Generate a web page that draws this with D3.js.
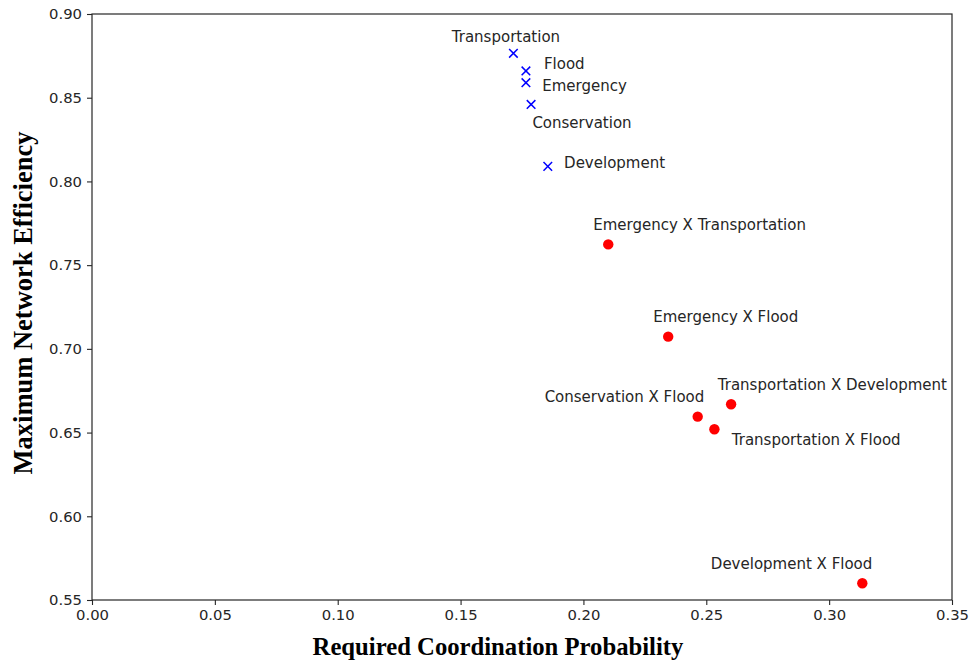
<!DOCTYPE html>
<html>
<head>
<meta charset="utf-8">
<script src="https://cdn.jsdelivr.net/npm/d3@7"></script>
<style>
  body { margin: 0; background: #fff; }
  .tick text { font-family: "DejaVu Sans", sans-serif; font-size: 14.8px; fill: #262626; }
  .lbl { font-family: "DejaVu Sans", sans-serif; font-size: 15px; fill: #262626; }
  .axis-title { font-family: "Liberation Serif", "Times New Roman", serif; font-weight: bold; fill: #000; }
</style>
</head>
<body>
<div class="canvas"></div>
<script>
// single-layer networks (blue x)
const singleNames = ['Transportation', 'Flood', 'Emergency', 'Conservation', 'Development'];
const singleProb = [0.1715, 0.1766, 0.1766, 0.1787, 0.1855];
const singleEff = [0.8765, 0.866, 0.859, 0.846, 0.809];

// coupled networks (red dots)
const pairNames = ['Emergency X Transportation', 'Emergency X Flood', 'Conservation X Flood',
  'Transportation X Flood', 'Transportation X Development', 'Development X Flood'];
const pairProb = [0.2101, 0.2345, 0.2465, 0.2533, 0.2601, 0.3135];
const pairEff = [0.7624, 0.7073, 0.6595, 0.6520, 0.6669, 0.5600];

const xTicks = [0, 0.05, 0.10, 0.15, 0.20, 0.25, 0.30, 0.35];
const yTicks = [0.55, 0.60, 0.65, 0.70, 0.75, 0.80, 0.85, 0.90];

// label placement relative to each point: [dx, dy, anchor]
const singleLabelPos = [[-61.6, -16.6, 'start'], [18, -6.7, 'start'], [16.3, 3.4, 'start'],
  [1.3, 18.4, 'start'], [16.3, -3.4, 'start']];
const pairLabelPos = [[-15, -19.3, 'start'], [-15, -20, 'start'], [6.6, -20, 'end'],
  [17.4, 10.7, 'start'], [-13.3, -19.3, 'start'], [10, -20, 'end']];

const dims = {width: 979, height: 661};
const margin = {left: 92, right: 27, top: 14, bottom: 61};

const svg = d3.select('.canvas')
    .append('svg')
    .attr('width', dims.width)
    .attr('height', dims.height);

const x = d3.scaleLinear().domain([0, 0.35]).range([margin.left, dims.width - margin.right]);
const y = d3.scaleLinear().domain([0.55, 0.90]).range([dims.height - margin.bottom, margin.top]);

// axes
const xAxis = svg.append('g')
    .attr('transform', `translate(0, ${y(0.55)})`)
    .call(d3.axisBottom(x).tickValues(xTicks).tickFormat(d3.format('.2f')).tickSize(5).tickPadding(4));
const yAxis = svg.append('g')
    .attr('transform', `translate(${x(0)}, 0)`)
    .call(d3.axisLeft(y).tickValues(yTicks).tickFormat(d3.format('.2f')).tickSize(5).tickPadding(5));

[xAxis, yAxis].forEach(a => {
    a.select('.domain').remove();
    a.selectAll('.tick line').attr('stroke', '#262626').attr('stroke-width', 1.1);
});

// frame
svg.append('rect')
    .attr('x', x(0)).attr('y', y(0.90))
    .attr('width', x(0.35) - x(0)).attr('height', y(0.55) - y(0.90))
    .attr('fill', 'none').attr('stroke', '#262626').attr('stroke-width', 1.2);

// axis titles
svg.append('text')
    .attr('class', 'axis-title')
    .attr('x', 498).attr('y', 655)
    .attr('text-anchor', 'middle')
    .attr('font-size', 24.7)
    .text('Required Coordination Probability');

svg.append('text')
    .attr('class', 'axis-title')
    .attr('transform', `translate(32, 303) rotate(-90)`)
    .attr('text-anchor', 'middle')
    .attr('font-size', 26.5)
    .text('Maximum Network Efficiency');

// single networks
const singles = singleNames.map((n, i) => ({name: n, p: singleProb[i], e: singleEff[i], pos: singleLabelPos[i]}));
const pairs = pairNames.map((n, i) => ({name: n, p: pairProb[i], e: pairEff[i], pos: pairLabelPos[i]}));

const s = 4.3;
svg.append('g').selectAll('path')
    .data(singles)
    .enter()
    .append('path')
    .attr('d', d => {
        const cx = x(d.p), cy = y(d.e);
        return `M${cx - s},${cy - s}L${cx + s},${cy + s}M${cx - s},${cy + s}L${cx + s},${cy - s}`;
    })
    .attr('stroke', '#0000ff')
    .attr('stroke-width', 1.5)
    .attr('fill', 'none');

svg.append('g').selectAll('circle')
    .data(pairs)
    .enter()
    .append('circle')
    .attr('cx', d => x(d.p))
    .attr('cy', d => y(d.e))
    .attr('r', 5.2)
    .attr('fill', '#ff0000');

// labels
svg.append('g').selectAll('text')
    .data(singles.concat(pairs))
    .enter()
    .append('text')
    .attr('class', 'lbl')
    .attr('x', d => x(d.p) + d.pos[0])
    .attr('y', d => y(d.e) + d.pos[1])
    .attr('dy', '0.35em')
    .attr('text-anchor', d => d.pos[2])
    .text(d => d.name);
</script>
</body>
</html>
